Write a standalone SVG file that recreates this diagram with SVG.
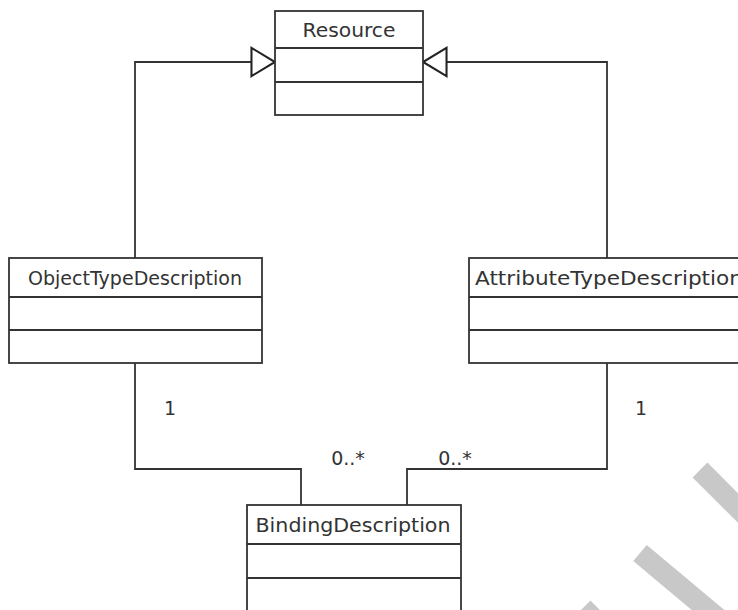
<svg xmlns="http://www.w3.org/2000/svg" width="738" height="610" viewBox="0 0 738 610">
<defs>
<style>
.box{fill:#fff;stroke:#333;stroke-width:1.8}
.div{stroke:#333;stroke-width:1.8;fill:none}
.t{font-family:"DejaVu Sans",Verdana,sans-serif;font-size:20px;fill:#333;text-anchor:middle}
.lbl{font-family:"DejaVu Sans",Verdana,sans-serif;font-size:19px;fill:#333;text-anchor:middle}
.c{fill:none;stroke:#333;stroke-width:1.8}
.wm{stroke:#c8c8c8;stroke-width:21;fill:none}
</style>
<marker id="gen" markerUnits="userSpaceOnUse" markerWidth="28" markerHeight="32" refX="25" refY="15" orient="auto" viewBox="-2 -2 29 34">
<path d="M0,0 L25,15 L0,30 Z" fill="#fff" stroke="#222" stroke-width="2.2" stroke-linejoin="miter"/>
</marker>
</defs>
<rect width="738" height="610" fill="#fff"/>
<g id="watermark">
<line class="wm" x1="700" y1="470" x2="760" y2="530"/>
<line class="wm" x1="640" y1="553" x2="720" y2="620"/>
<line class="wm" x1="583" y1="608" x2="610" y2="635"/>
</g>
<g id="connectors">
<path class="c" d="M135,258 V62 H275" marker-end="url(#gen)"/>
<path class="c" d="M607,258 V62 H423" marker-end="url(#gen)"/>
<path class="c" d="M135,363 V469 H301 V505"/>
<path class="c" d="M607,363 V469 H407 V505"/>
<text class="lbl" x="170" y="415">1</text>
<text class="lbl" x="348" y="465">0..*</text>
<text class="lbl" x="455" y="465">0..*</text>
<text class="lbl" x="641" y="415">1</text>
</g>
<g id="Resource">
<rect class="box" x="275" y="11" width="148" height="104"/>
<path class="div" d="M275,48 H423 M275,82 H423"/>
<text class="t" x="349" y="37" textLength="93" lengthAdjust="spacingAndGlyphs">Resource</text>
</g>
<g id="ObjectTypeDescription">
<rect class="box" x="9" y="258" width="253" height="105"/>
<path class="div" d="M9,297 H262 M9,330 H262"/>
<text class="t" x="135" y="285" textLength="214" lengthAdjust="spacingAndGlyphs">ObjectTypeDescription</text>
</g>
<g id="AttributeTypeDescription">
<rect class="box" x="469" y="258" width="279" height="105"/>
<path class="div" d="M469,297 H748 M469,330 H748"/>
<text class="t" x="609" y="285" textLength="268" lengthAdjust="spacingAndGlyphs">AttributeTypeDescription</text>
</g>
<g id="BindingDescription">
<rect class="box" x="247" y="505" width="214" height="108"/>
<path class="div" d="M247,544 H461 M247,578 H461"/>
<text class="t" x="353" y="532" textLength="195" lengthAdjust="spacingAndGlyphs">BindingDescription</text>
</g>
</svg>
